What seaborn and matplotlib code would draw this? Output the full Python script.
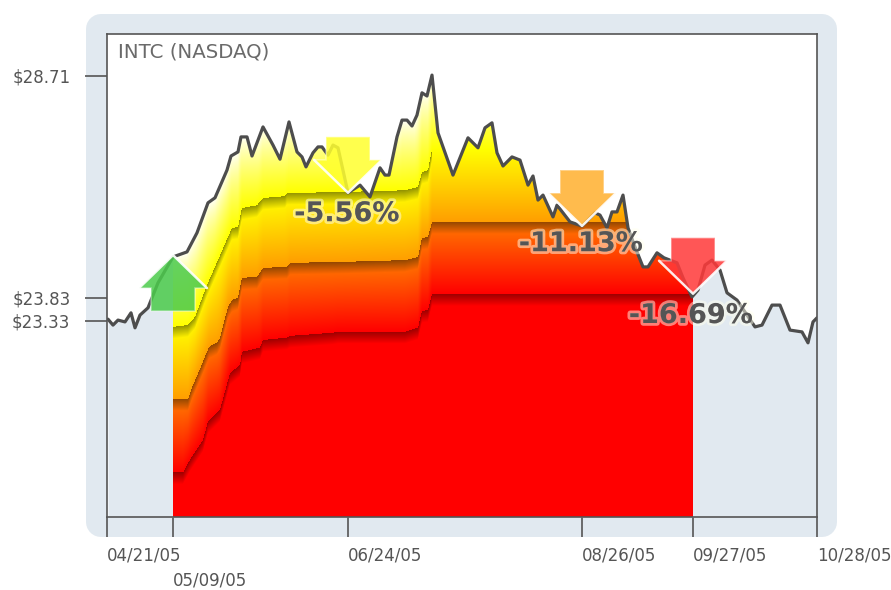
import numpy as np
import pandas as pd
import matplotlib
matplotlib.use("Agg")
import matplotlib.pyplot as plt
from matplotlib.patches import FancyBboxPatch, Polygon
import matplotlib.patheffects as pe
import seaborn as sns

# x is a chart position along the time axis (0..710), y is the price in dollars
price_x = [1, 6, 11, 18, 24, 28, 33, 41, 51, 66, 80, 90, 101, 108, 120, 124, 131, 134, 140, 145,
           156, 166, 173, 182, 190, 195, 199, 206, 211, 215, 221, 226, 231, 241, 253, 263, 273, 278, 282, 290,
           295, 300, 305, 310, 315, 320, 325, 331, 346, 361, 371, 378, 385, 390, 396, 405, 413, 421, 426, 431,
           436, 446, 450, 463, 475, 488, 493, 500, 505, 510, 516, 521, 528, 536, 541, 550, 557, 570, 576, 585,
           591, 598, 605, 613, 620, 630, 648, 655, 665, 673, 683, 695, 701, 706, 710]
price_y = [23.36, 23.23, 23.34, 23.30, 23.50, 23.17, 23.45, 23.61, 24.16, 24.73, 24.84, 25.26, 25.92, 26.03, 26.64, 26.95, 27.04, 27.37, 27.37, 26.95,
           27.59, 27.19, 26.88, 27.70, 27.04, 26.93, 26.71, 27.02, 27.15, 27.15, 26.97, 27.19, 27.13, 26.14, 26.31, 26.05, 26.69, 26.53, 26.53, 27.37,
           27.74, 27.74, 27.61, 27.85, 28.34, 28.27, 28.73, 27.46, 26.53, 27.35, 27.13, 27.57, 27.68, 27.02, 26.73, 26.93, 26.86, 26.31, 26.51, 25.98,
           26.09, 25.61, 25.87, 25.50, 25.41, 25.70, 25.65, 25.37, 25.72, 25.72, 26.09, 25.37, 24.95, 24.51, 24.51, 24.82, 24.71, 24.60, 24.27, 23.85,
           24.00, 24.55, 24.66, 24.44, 23.94, 23.78, 23.19, 23.23, 23.67, 23.67, 23.12, 23.08, 22.84, 23.30, 23.39]

band1_x = [66, 81, 88, 100, 108, 121, 125, 131, 135, 150, 156, 178, 180, 233, 298, 311, 315, 321, 325, 586]
band1_y = [23.19, 23.23, 23.41, 24.11, 24.51, 25.17, 25.37, 25.39, 25.81, 25.87, 26.03, 26.07, 26.14, 26.16, 26.20, 26.27, 26.60, 26.64, 27.10, 27.10]
band2_x = [66, 81, 85, 96, 102, 110, 113, 121, 125, 131, 135, 150, 156, 180, 183, 233, 298, 311, 315, 321, 325, 586]
band2_y = [21.60, 21.60, 21.85, 22.42, 22.75, 22.84, 22.95, 23.63, 23.78, 23.83, 24.27, 24.29, 24.49, 24.51, 24.60, 24.62, 24.66, 24.73, 25.15, 25.17, 25.50, 25.50]
band3_x = [66, 76, 83, 96, 101, 113, 123, 133, 135, 153, 156, 180, 183, 226, 231, 298, 311, 315, 321, 325, 586]
band3_y = [19.98, 19.98, 20.26, 20.70, 21.10, 21.36, 22.17, 22.35, 22.64, 22.73, 22.90, 22.95, 22.99, 23.06, 23.08, 23.08, 23.17, 23.54, 23.56, 23.91, 23.91]

tick_x = [0, 66, 241, 475, 586, 710]
tick_x_labels = ["04/21/05", "05/09/05", "06/24/05", "08/26/05", "09/27/05", "10/28/05"]
tick_y = [28.71, 23.83, 23.33]
tick_y_labels = ["$28.71", "$23.83", "$23.33"]

arrow_x = [66, 241, 475, 586]
arrow_y = [24.77, 26.14, 25.41, 23.92]
arrow_dir = [1, -1, -1, -1]
arrow_colors = ["#4ccb4c", "#ffff30", "#ffb030", "#ff3a3a"]

pct_labels = ["-5.56%", "-11.13%", "-16.69%"]
pct_x = [240, 474, 584]
pct_y = [25.67, 25.01, 23.43]

XMIN, XMAX, YMIN, YMAX = 0, 710, 19.008, 29.634
PANEL = "#e1e9f0"
INK = "#555555"

sns.set_style("white")
plt.rcParams["font.family"] = ["DejaVu Sans"]

fig = plt.figure(figsize=(8.91, 5.90), dpi=100, facecolor="white")
W, H = 891, 590
fig.add_artist(FancyBboxPatch((101 / W, 1 - 522 / H), 721 / W, 493 / H,
                              boxstyle="round,pad=0,rounding_size=0.0", mutation_scale=1,
                              transform=fig.transFigure, fc=PANEL, ec=PANEL, lw=21.6, joinstyle="round", zorder=0))
ax = fig.add_axes([107 / W, 1 - 517 / H, 710 / W, 483 / H], facecolor="white", zorder=1)

frame = pd.DataFrame({"x": price_x, "price": price_y})
ax.fill_between(frame["x"], frame["price"], YMIN, color=PANEL, lw=0, zorder=1)

# Drawdown gradient, built column by column from the band edges
cols = np.arange(66, 586) + 0.5
rows = np.linspace(YMAX, YMIN, 483)
peak = np.maximum.accumulate(np.interp(cols, price_x, price_y))
e1 = np.interp(cols, band1_x, band1_y)
e2 = np.interp(cols, band2_x, band2_y)
e3 = np.interp(cols, band3_x, band3_y)
P, _ = np.meshgrid(rows, cols, indexing="ij")
T, E1, E2, E3 = [np.tile(a, (len(rows), 1)) for a in (peak, e1, e2, e3)]
white, yellow, orange, orange2, red = [np.array(c, float) for c in
    [(1, 1, 1), (1, 1, 0), (1, .62, 0), (1, .48, 0), (1, 0, 0)]]

def ramp(a, b, t):
    t = np.clip(t, 0, 1)[..., None]
    return a * (1 - t) + b * t

img = np.where((P >= E1)[..., None], ramp(white, yellow, ((T - P) / np.maximum(T - E1, 1e-3)).clip(0, 1) ** 0.75),
      np.where((P >= E2)[..., None], ramp(yellow, orange, (E1 - P) / (E1 - E2)),
      np.where((P >= E3)[..., None], ramp(orange2, red, (E2 - P) / (E2 - E3)), red * np.ones(P.shape + (3,)))))

def shadow(edge, mask=None, depth=0.26, dark=0.58):
    d = edge - P
    f = np.where((d >= 0) & (d < depth), dark + (1 - dark) * d / depth, 1.0)
    if mask is not None:
        f = np.where(mask, f, 1.0)
    return f

img = img * shadow(E1, np.tile(cols < 325, (len(rows), 1)))[..., None]
img = img * shadow(E2)[..., None]
img = img * shadow(E3, dark=0.62)[..., None]

im = ax.imshow(img, extent=[66, 586, YMIN, YMAX], aspect="auto", interpolation="bilinear", zorder=2)
clip = Polygon(np.r_[[[XMIN, YMIN]], np.c_[price_x, price_y], [[XMAX, YMIN]]], closed=True,
               transform=ax.transData, fc="none", ec="none")
im.set_clip_path(clip)

sns.lineplot(data=frame, x="x", y="price", ax=ax, color="#4d4d4d", lw=2.3, estimator=None, sort=False, zorder=3)

# Arrow outline in chart units (x positions, dollars) relative to the tip
for ax_, ay_, d, c in zip(arrow_x, arrow_y, arrow_dir, arrow_colors):
    dy = -d * 0.022
    shape_x = np.array([0, 34, 22, 22, -22, -22, -34, 0])
    shape_y = np.array([0, 33, 33, 56, 56, 33, 33, 0]) * dy
    ax.fill(ax_ + shape_x, ay_ + shape_y, fc=c, alpha=0.86, ec="none", zorder=4)
    ax.plot(ax_ + shape_x, ay_ + shape_y, color="white", alpha=0.4, lw=1.2, zorder=5, solid_joinstyle="miter")
    ax.plot(ax_ + shape_x[[6, 7, 1]], ay_ + shape_y[[6, 7, 1]], color="white", alpha=0.85, lw=1.8, zorder=5)

for t, x, y in zip(pct_labels, pct_x, pct_y):
    ax.text(x, y, t, ha="center", va="center", fontsize=19.5, fontweight="bold", color=INK, zorder=6,
            path_effects=[pe.withStroke(linewidth=4.0, foreground=(1, 1, 0.93, 0.5))])

ax.text(11 / 710, (517 - 52) / 483, "INTC (NASDAQ)", transform=ax.transAxes, fontsize=14.2,
        color="#6a6a6a", ha="left", va="center")

ax.set_xlim(XMIN, XMAX)
ax.set_ylim(YMIN, YMAX)
ax.set_xlabel("")
ax.set_ylabel("")
ax.set_xticks(tick_x)
ax.set_xticklabels(tick_x_labels, ha="left")
ax.set_yticks(tick_y)
ax.set_yticklabels(tick_y_labels)
ax.tick_params(axis="x", bottom=True, length=14.5, width=1.2, color=INK, labelcolor=INK, labelsize=12, pad=7)
ax.tick_params(axis="y", left=True, length=15.8, width=1.2, color=INK, labelcolor=INK, labelsize=12, pad=10.5)
ax.xaxis.get_major_ticks()[1].set_pad(25)
for s in ax.spines.values():
    s.set_color(INK)
    s.set_linewidth(1.2)
    s.set_zorder(7)

fig.savefig("out.png", dpi=100)
